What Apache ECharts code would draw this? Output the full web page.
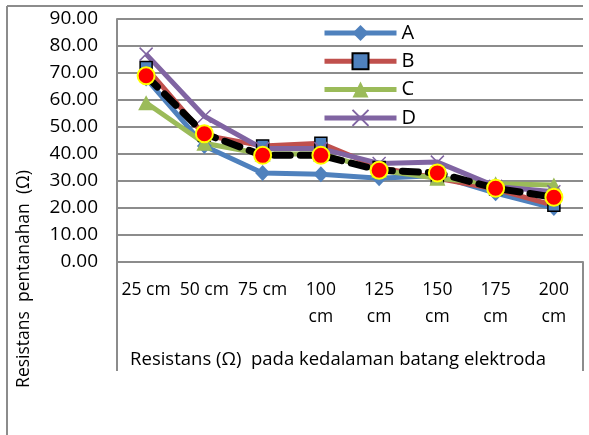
<!DOCTYPE html>
<html>
<head>
<meta charset="utf-8">
<script src="https://cdn.jsdelivr.net/npm/echarts@6/dist/echarts.min.js"></script>
<style>html,body{margin:0;padding:0;background:#fff;}#c{width:589px;height:435px;}</style>
</head>
<body>
<div id="c"></div>
<script>
var categories = ['25 cm', '50 cm', '75 cm', '100 cm', '125 cm', '150 cm', '175 cm', '200 cm'];
var seriesA = [68, 43, 33, 32.5, 31, 32, 25.5, 20];
var seriesB = [72, 47, 43, 44, 35, 31, 27, 21];
var seriesC = [59, 44, 40, 40, 34, 31, 29, 28.5];
var seriesD = [77, 54, 42, 42, 36.5, 37, 28, 26];
var average = [69, 47.5, 39.5, 39.5, 34, 33, 27.3, 24];
var yTicks = [0, 10, 20, 30, 40, 50, 60, 70, 80, 90];
var xTitle = 'Resistans (Ω)  pada kedalaman batang elektroda';
var yTitle = 'Resistans  pentanahan  (Ω)';

var FONT = 'Open Sans';
var GRID = '#8c8c8c';
var chart = echarts.init(document.getElementById('c'), null, {renderer: 'canvas'});
chart.setOption({
  animation: false,
  backgroundColor: '#fff',
  textStyle: {fontFamily: FONT},
  grid: {left: 117, right: 6, top: 19, bottom: 173, containLabel: false},
  legend: {
    data: ['A', 'B', 'C', 'D'],
    orient: 'vertical',
    left: 317, top: 18,
    itemWidth: 72, itemHeight: 20, itemGap: 8.3,
    itemGap: 8.3,
    lineStyle: {width: 5},
    textStyle: {fontFamily: FONT, fontSize: 20, color: '#000', lineHeight: 20}
  },
  xAxis: {
    type: 'category', data: categories, boundaryGap: true,
    axisLine: {show: true, lineStyle: {color: GRID, width: 2}},
    axisTick: {show: false},
    axisLabel: {interval: 0, margin: 15, fontFamily: FONT, fontSize: 17.5, color: '#000', lineHeight: 27,
      formatter: function (v) { return v.length > 5 ? v.replace(' ', '\n') : v; }}
  },
  yAxis: {
    type: 'value', min: yTicks[0], max: yTicks[yTicks.length - 1], interval: 10,
    axisLine: {show: true, lineStyle: {color: GRID, width: 2}},
    axisTick: {show: false},
    splitLine: {show: true, lineStyle: {color: GRID, width: 2}},
    axisLabel: {margin: 19, fontFamily: FONT, fontSize: 19, color: '#000',
      formatter: function (v) { return v.toFixed(2); }}
  },
  graphic: [
    {type: 'line', shape: {x1: 7, y1: 6, x2: 583, y2: 6}, style: {stroke: GRID, lineWidth: 2}},
    {type: 'line', shape: {x1: 7, y1: 6, x2: 7, y2: 435}, style: {stroke: GRID, lineWidth: 2}},
    {type: 'line', shape: {x1: 117, y1: 262, x2: 117, y2: 371}, style: {stroke: GRID, lineWidth: 2}},
    {type: 'line', shape: {x1: 583, y1: 262, x2: 583, y2: 371}, style: {stroke: GRID, lineWidth: 2}},
    {type: 'text', x: 338, y: 360, style: {text: xTitle, fontFamily: FONT, fontSize: 18.5, fill: '#000', textAlign: 'center', textVerticalAlign: 'middle'}},
    {type: 'text', x: 24, y: 279, rotation: Math.PI / 2, style: {text: yTitle, fontFamily: FONT, fontSize: 17.5, fill: '#000', textAlign: 'center', textVerticalAlign: 'middle'}}
  ],
  series: [
    {name: 'A', type: 'line', data: seriesA, symbol: 'diamond', symbolSize: [15, 16],
      lineStyle: {color: '#4F81BD', width: 5}, itemStyle: {color: '#4F81BD'}},
    {name: 'B', type: 'line', data: seriesB, symbol: 'rect', symbolSize: 12,
      lineStyle: {color: '#C0504D', width: 5}, itemStyle: {color: '#4F81BD', borderColor: '#000', borderWidth: 1.5}},
    {name: 'C', type: 'line', data: seriesC, symbol: 'triangle', symbolSize: [16, 15],
      lineStyle: {color: '#9BBB59', width: 5}, itemStyle: {color: '#9BBB59'}},
    {name: 'D', type: 'line', data: seriesD, symbol: 'path://M0,0L10,10M10,0L0,10', symbolSize: 13,
      lineStyle: {color: '#8064A2', width: 5}, itemStyle: {color: '#8064A2', borderColor: '#8064A2', borderWidth: 1.5}},
    {name: 'Rata-rata', type: 'line', data: average, symbol: 'circle', symbolSize: 17,
      lineStyle: {color: '#000', width: 7, type: [16, 10], cap: 'round'},
      itemStyle: {color: '#FF0000', borderColor: '#FFFF00', borderWidth: 2}, z: 5}
  ]
});
</script>
</body>
</html>
